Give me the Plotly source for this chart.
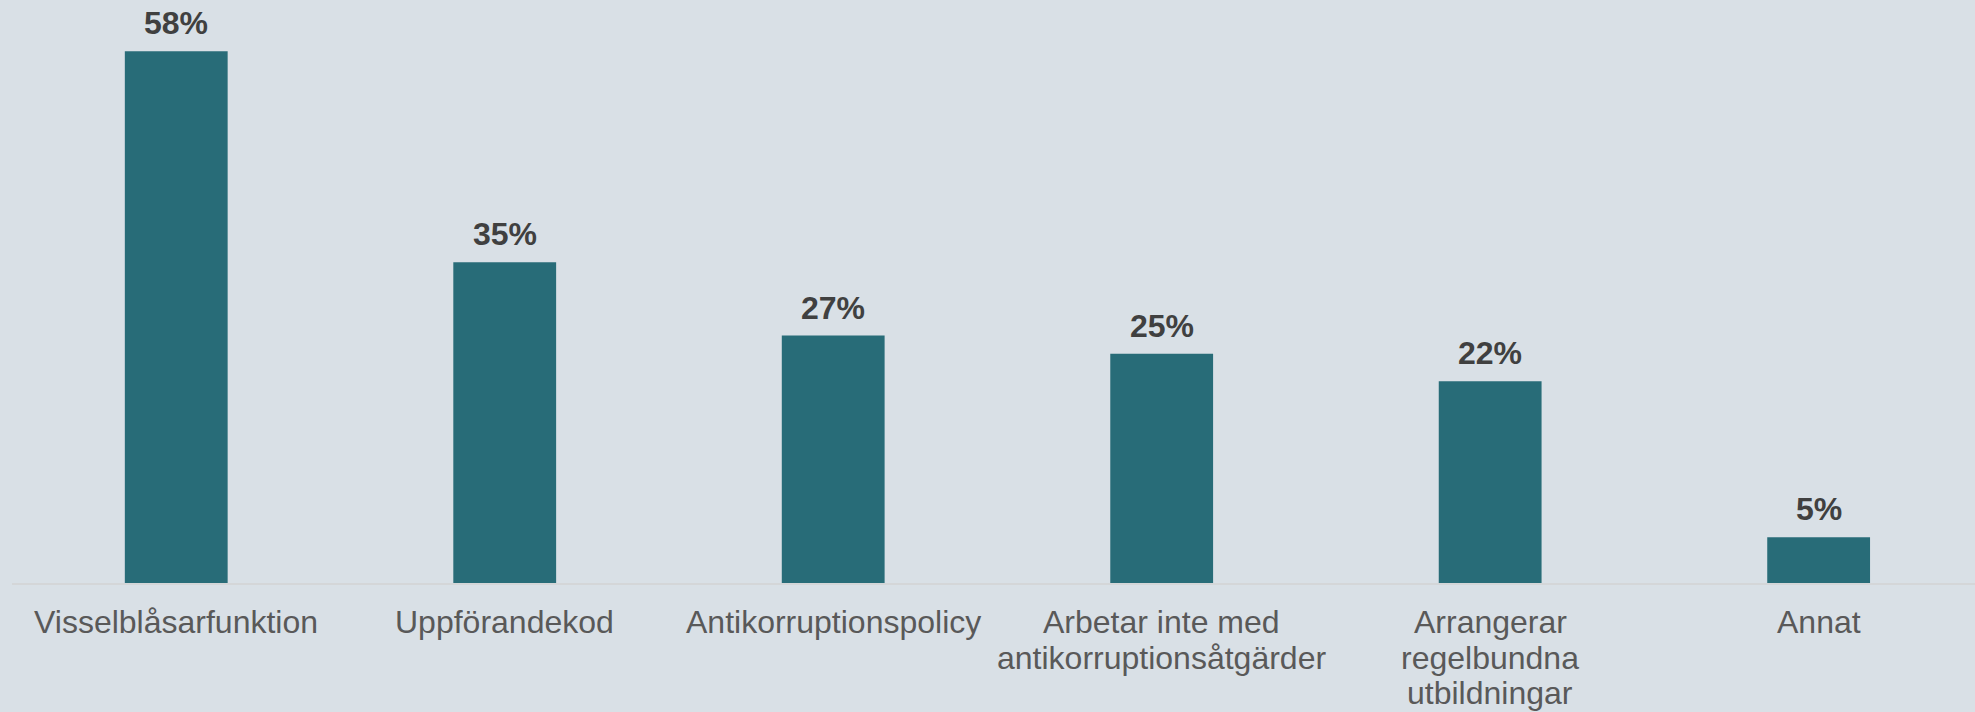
import plotly.graph_objects as go

categories = [
    "Visselblåsarfunktion",
    "Uppförandekod",
    "Antikorruptionspolicy",
    "Arbetar inte med antikorruptionsåtgärder",
    "Arrangerar regelbundna utbildningar",
    "Annat",
]
category_lines = [
    ["Visselblåsarfunktion"],
    ["Uppförandekod"],
    ["Antikorruptionspolicy"],
    ["Arbetar inte med", "antikorruptionsåtgärder"],
    ["Arrangerar", "regelbundna", "utbildningar"],
    ["Annat"],
]
values = [58, 35, 27, 25, 22, 5]
value_labels = ["58%", "35%", "27%", "25%", "22%", "5%"]

BG = "#D9E0E6"
BAR = "#286C78"
FONT = "Liberation Sans, Arial"

fig = go.Figure()
fig.add_trace(go.Bar(
    x=categories,
    y=values,
    marker=dict(color=BAR, line=dict(width=0)),
    hoverinfo="skip",
))

# value labels above bars
for c, v, t in zip(categories, values, value_labels):
    fig.add_annotation(
        x=c, y=v, text=f"<b>{t}</b>", showarrow=False,
        yanchor="bottom", yshift=8,
        font=dict(family=FONT, size=32, color="#404040"),
    )

# category labels (line by line, Excel-like line spacing)
LINE_GAP = 35.7
for c, lines in zip(categories, category_lines):
    for i, line in enumerate(lines):
        fig.add_annotation(
            x=c, xref="x", y=0, yref="paper", text=line, showarrow=False,
            yanchor="top", yshift=-19 - LINE_GAP * i,
            font=dict(family=FONT, size=32, color="#595959"),
        )

fig.update_layout(
    width=1975, height=712,
    paper_bgcolor=BG, plot_bgcolor=BG,
    margin=dict(l=12, r=0, t=0, b=129, autoexpand=False),
    bargap=0.687,
    showlegend=False,
    font=dict(family=FONT, size=32, color="#595959"),
)
fig.update_xaxes(
    range=[-0.5, 5.476],
    showline=True, linecolor="#D4D6D8", linewidth=2,
    ticks="", showgrid=False, zeroline=False,
    showticklabels=False,
    automargin=False,
)
fig.update_yaxes(
    range=[0, 63.6], visible=False, showgrid=False, zeroline=False,
    automargin=False,
)

fig.write_html(
    "out.html",
    config={"displayModeBar": False},
    post_script="document.body.style.margin='0';document.body.style.background='" + BG + "';",
)
